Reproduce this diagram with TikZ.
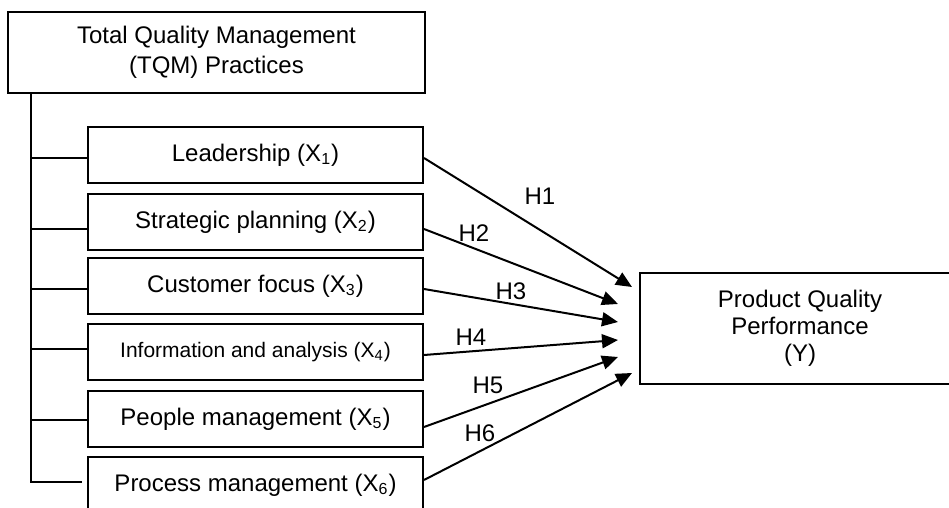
\documentclass[tikz,border=0pt]{standalone}
\usepackage{fontspec}
\setmainfont{Liberation Sans}
\usetikzlibrary{arrows.meta}

\tikzset{
  factor/.style={draw, minimum width=167.5pt, minimum height=28pt, inner sep=0pt,
    font=\fontsize{12}{14}\selectfont},
  hyp/.style={font=\fontsize{12}{14}\selectfont},
}

\begin{document}
\begin{tikzpicture}[x=0.5pt, y=-0.5pt, line width=1pt, >={Triangle[length=8pt,width=7pt]}]
\useasboundingbox (0,0) rectangle (949,508);
% independent variables
\node[draw, minimum width=208.5pt, minimum height=40.5pt, align=center,
  font=\fontsize{12}{15}\selectfont] (tqm) at (216.5,52.5)
  {Total Quality Management\\(TQM) Practices};
\node[factor] (b1) at (255.5,155) {Leadership (X\textsubscript{1})};
\node[factor] (b2) at (255.5,222) {Strategic planning (X\textsubscript{2})};
\node[factor] (b3) at (255.5,286) {Customer focus (X\textsubscript{3})};
\node[factor, font=\fontsize{10.5}{12}\selectfont] (b4) at (255.5,352) {Information and analysis (X\textsubscript{4})};
\node[factor] (b5) at (255.5,419) {People management (X\textsubscript{5})};
\node[factor] (b6) at (255.5,485) {Process management (X\textsubscript{6})};
% dependent variable
\node[draw, minimum width=160pt, minimum height=55.5pt, align=center,
  font=\fontsize{12}{13.5}\selectfont] (perf) at (800,328.5)
  {Product Quality\\Performance\\(Y)};
% tree
\draw (tqm.south west) ++(24,0) coordinate (trunk) -- (trunk |- 0,482) -- ([xshift=-2.5pt]b6.west |- 0,482);
\foreach \i/\y in {1/158, 2/229, 3/289, 4/349, 5/420}
  \draw (trunk |- 0,\y) -- (b\i.west |- 0,\y);
% hypotheses
\coordinate (t1) at (632,287);
\coordinate (t2) at (618,304);
\coordinate (t3) at (618,322);
\coordinate (t4) at (618,340);
\coordinate (t5) at (618,357);
\coordinate (t6) at (632,373);
\foreach \i/\y in {1/158, 2/229, 3/289, 4/355, 5/427, 6/480}
  \draw[->] (b\i.east |- 0,\y) -- (t\i);
\node[hyp] (h1) at (540,196) {H1};
\node[hyp] (h2) at (474,233) {H2};
\node[hyp] (h3) at (511,291) {H3};
\node[hyp] (h4) at (471,337) {H4};
\node[hyp] (h5) at (488,385) {H5};
\node[hyp] (h6) at (480,433) {H6};
\end{tikzpicture}
\end{document}
